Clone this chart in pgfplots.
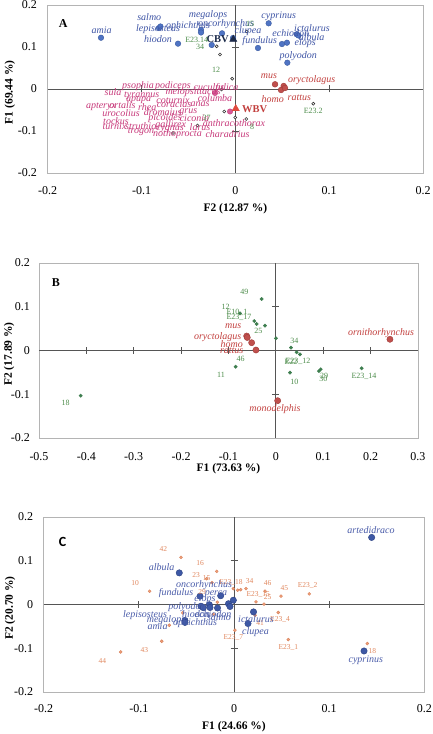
\documentclass[border=0pt]{standalone}
\usepackage{fontspec}
\setmainfont{Liberation Serif}
\newfontfamily\carlito{Carlito}
\usepackage{pgfplots}
\pgfplotsset{compat=1.18}

\definecolor{framegray}{HTML}{B4B4B4}
\definecolor{axgray}{HTML}{555555}
\definecolor{blueA}{HTML}{4F74C4}
\definecolor{blueAedge}{HTML}{3A5AA0}
\definecolor{bluelab}{HTML}{3F55A5}
\definecolor{redD}{HTML}{C0504D}
\definecolor{redE}{HTML}{A03A38}
\definecolor{redlab}{HTML}{C2403E}
\definecolor{pinklab}{HTML}{C7397A}
\definecolor{pinkD}{HTML}{D65A97}
\definecolor{greenlab}{HTML}{4C8C4A}
\definecolor{greenD}{HTML}{3E7E4F}
\definecolor{blueC}{HTML}{3D58A5}
\definecolor{blueCedge}{HTML}{2C4282}
\definecolor{blueClab}{HTML}{4A5CA9}
\definecolor{orangeD}{HTML}{F0A07A}
\definecolor{orangeE}{HTML}{D8825C}
\definecolor{orangelab}{HTML}{E0875E}
\definecolor{navy}{HTML}{1C2A4A}
\definecolor{wbvred}{HTML}{E04A3F}

\pgfplotsset{
  panel/.style={scale only axis, anchor=south west,
    axis line style={framegray, line width=0.6pt},
    major tick length=0pt, tick style={draw=none},
    ticklabel style={font=\fontsize{12}{12}\selectfont, inner sep=0pt},
    every axis x label/.style={anchor=center, font=\bfseries\fontsize{11.5}{11.5}\selectfont},
    every axis y label/.style={rotate=90, anchor=center, font=\bfseries\fontsize{11.5}{11.5}\selectfont},
    clip=false},
}

\newcommand{\crosshair}[6]{%
  \draw[axgray, line width=0.9pt] (axis cs:#1,0) -- (axis cs:#2,0);
  \draw[axgray, line width=0.9pt] (axis cs:0,#3) -- (axis cs:0,#4);
  \pgfplotsinvokeforeach{#5}{\draw[axgray, line width=0.9pt] ([yshift=-3.5pt]axis cs:##1,0) -- ([yshift=3.5pt]axis cs:##1,0);}
  \pgfplotsinvokeforeach{#6}{\draw[axgray, line width=0.9pt] ([xshift=-3.5pt]axis cs:0,##1) -- ([xshift=3.5pt]axis cs:0,##1);}
}

\tikzset{
  lb/.style={inner sep=0pt, font=\fontsize{10}{10}\selectfont\itshape},
  bl/.style={lb, text=bluelab},
  rl/.style={lb, text=redlab},
  pl/.style={lb, text=pinklab},
  cl/.style={lb, text=blueClab},
  gl/.style={inner sep=0pt, font=\fontsize{8}{8}\selectfont, text=greenlab},
  ol/.style={inner sep=0pt, font=\fontsize{7.5}{7.5}\selectfont, text=orangelab},
}
\newcommand{\lab}[4]{\node[#1] at (#2,#3) {#4};}

\begin{document}
\begin{tikzpicture}
\path[use as bounding box] (0,0) rectangle (432pt,734pt);

% ================= Panel A =================
\begin{axis}[panel, at={(47.7pt,561pt)}, width=375.3pt, height=168pt,
  xmin=-0.2, xmax=0.2, ymin=-0.2, ymax=0.2,
  xtick={-0.2,-0.1,0,0.1,0.2}, xticklabels={-0.2,-0.1,0,0.1,0.2},
  ytick={-0.2,-0.1,0,0.1,0.2}, yticklabels={-0.2,-0.1,0,0.1,0.2},
  xticklabel style={anchor=center, yshift=-18pt},
  yticklabel style={anchor=east, xshift=-10.7pt},
  xlabel={F2 (12.87 \%)}, ylabel={F1 (69.44 \%)},
  xlabel style={at={(axis description cs:0.5,-0.2143)}},
  ylabel style={at={(axis description cs:-0.1005,0.48)}}]
\crosshair{-0.2}{0.2}{-0.2}{0.2}{-0.1,0.1}{-0.1,0.1}
% fish (blue)
\addplot[only marks, mark=*, mark size=2.8pt, mark options={fill=blueA, draw=blueAedge, line width=0.4pt}] coordinates {
(-0.1432,0.1221) (-0.0814,0.1452) (-0.0798,0.1488) (-0.0611,0.1079)
(-0.0366,0.1405) (-0.0366,0.1345) (-0.0252,0.1048) (-0.0142,0.1326)
(-0.0025,0.1214) (0.0241,0.0976) (0.0355,0.1564) (0.0497,0.1071)
(0.0550,0.1102) (0.0654,0.1302) (0.0673,0.1274) (0.0554,0.0626)};
% mammals (red)
\addplot[only marks, mark=*, mark size=2.9pt, mark options={fill=redD, draw=redE, line width=0.4pt}] coordinates {
(0.0423,0.0112) (0.0515,0.0071) (0.0487,-0.0024) (0.0529,0.0024)};
% birds (pink)
\addplot[only marks, mark=*, mark size=2.7pt, mark options={fill=pinkD, draw=pinklab, line width=0.4pt}] coordinates {
(-0.0217,-0.0095) (-0.0057,-0.0536)};
% small samples
\addplot[only marks, mark=*, mark size=1.5pt, mark options={fill=white, draw=black!80, line width=0.6pt}] coordinates {
(-0.0199,0.1017) (-0.0164,0.0821) (-0.0034,0.0245) (-0.0148,-0.0012)
(0.0121,0.1369) (0.0831,-0.0350) (-0.0119,-0.0536) (-0.0001,-0.0679)
(0.0116,-0.0714) (-0.0403,-0.0869) (-0.0665,-0.1048)};
% CBV / WBV
\addplot[only marks, mark=triangle*, mark size=4.2pt, mark options={fill=navy, draw=navy}] coordinates {(-0.0022,0.1183)};
\addplot[only marks, mark=triangle*, mark size=4.2pt, mark options={fill=wbvred, draw=wbvred}] coordinates {(0.0004,-0.0469)};
\end{axis}

% ================= Panel B =================
\begin{axis}[panel, at={(39pt,296pt)}, width=379pt, height=175pt,
  xmin=-0.5, xmax=0.3, ymin=-0.2, ymax=0.2,
  xtick={-0.5,-0.4,-0.3,-0.2,-0.1,0,0.1,0.2,0.3},
  xticklabels={-0.5,-0.4,-0.3,-0.2,-0.1,0,0.1,0.2,0.3},
  ytick={-0.2,-0.1,0,0.1,0.2}, yticklabels={-0.2,-0.1,0,0.1,0.2},
  xticklabel style={anchor=center, yshift=-19pt},
  yticklabel style={anchor=east, xshift=-9pt},
  xlabel={F1 (73.63 \%)}, ylabel={F2 (17.89 \%)},
  xlabel style={at={(axis description cs:0.5,-0.1771)}},
  ylabel style={at={(axis description cs:-0.0792,0.48)}}]
\crosshair{-0.5}{0.3}{-0.2}{0.2}{-0.4,-0.3,-0.2,-0.1,0.1,0.2}{-0.1,0.1}
\addplot[only marks, mark=*, mark size=1.7pt, mark options={fill=greenD, draw=greenD}] coordinates {
(-0.0300,0.1177) (-0.0758,0.0850) (-0.0456,0.0674) (-0.0405,0.0606)
(-0.0230,0.0567) (0.0002,0.0279) (0.0319,0.0064) (0.0439,-0.0041)
(0.0509,-0.0087) (-0.0849,-0.0370) (0.0298,-0.0507) (0.0910,-0.0469)
(0.0946,-0.0430) (0.1811,-0.0407) (-0.4120,-0.1033)};
\addplot[only marks, mark=*, mark size=3.1pt, mark options={fill=redD, draw=redE, line width=0.4pt}] coordinates {
(0.2408,0.0256) (-0.0616,0.0331) (-0.0604,0.0297) (-0.0511,0.0178)
(-0.0420,0.0011) (0.0038,-0.1147)};
\end{axis}

% ================= Panel C =================
\begin{axis}[panel, at={(43.6pt,42pt)}, width=380.8pt, height=175pt,
  xmin=-0.2, xmax=0.2, ymin=-0.2, ymax=0.2,
  xtick={-0.2,-0.1,0,0.1,0.2}, xticklabels={-0.2,-0.1,0,0.1,0.2},
  ytick={-0.2,-0.1,0,0.1,0.2}, yticklabels={-0.2,-0.1,0,0.1,0.2},
  xticklabel style={anchor=center, yshift=-17pt},
  yticklabel style={anchor=east, xshift=-10.3pt},
  xlabel={F1 (24.66 \%)}, ylabel={F2 (20.70 \%)},
  xlabel style={at={(axis description cs:0.5,-0.2)}},
  ylabel style={at={(axis description cs:-0.0882,0.48)}}]
\crosshair{-0.2}{0.2}{-0.2}{0.2}{-0.1,0.1}{-0.1,0.1}
\addplot[only marks, mark=*, mark size=1.5pt, mark options={fill=orangeD, draw=orangeE, line width=0.4pt}] coordinates {
(-0.0557,0.1076) (-0.0182,0.0757) (-0.0231,0.0499) (-0.0287,0.0590)
(-0.0886,0.0304) (-0.0007,0.0362) (0.0039,0.0327) (0.0070,0.0339)
(0.0126,0.0362) (0.0326,0.0304) (0.0494,0.0190) (0.0791,0.0243)
(0.0231,0.0060) (0.0315,0.0007) (-0.0175,0.0053) (-0.0539,-0.0192)
(-0.0217,-0.0222) (0.0221,-0.0245) (0.0465,-0.0183) (0.0010,-0.0588)
(0.0570,-0.0801) (0.1400,-0.0892) (-0.0759,-0.0840) (-0.1190,-0.1085)
(-0.0680,-0.0474)};
\addplot[only marks, mark=*, mark size=3.2pt, mark options={fill=blueC, draw=blueCedge, line width=0.4pt}] coordinates {
(0.1446,0.1533) (-0.0575,0.0723) (-0.0357,0.0190) (-0.0140,0.0201)
(-0.0007,0.0098) (-0.0347,-0.0039) (-0.0322,-0.0073) (-0.0259,-0.0005)
(-0.0252,-0.0069) (-0.0173,-0.0080) (-0.0058,0.0018) (-0.0042,-0.0046)
(0.0205,-0.0169) (0.0147,-0.0435) (-0.0515,-0.0365) (-0.0515,-0.0410)
(0.1366,-0.1062)};
\end{axis}

% ================= Labels (pixel coordinates, y downward) =================
\begin{scope}[x=1pt, y=-1pt, shift={(0pt,734pt)}]
% panel letters
\node[inner sep=0pt, font=\bfseries\fontsize{12}{12}\selectfont] at (63.3,23.3) {A};
\node[inner sep=0pt, font=\bfseries\fontsize{12}{12}\selectfont] at (56,282.3) {B};
\node[inner sep=0pt, font=\carlito\bfseries\fontsize{14}{14}\selectfont] at (62.7,541.7) {C};

% ---- A: pink (birds)
\lab{pl}{138}{86.5}{psophia}
\lab{pl}{173}{86}{podiceps}
\lab{pl}{209}{87}{cuculus}
\lab{pl}{227}{88}{fulica}
\lab{pl}{113}{92}{sula}
\lab{pl}{141.7}{95.3}{tyrannus}
\lab{pl}{193}{92}{melopsittacus}
\lab{pl}{138.5}{100.3}{upupa}
\lab{pl}{173}{100}{coturnix}
\lab{pl}{215}{98}{columba}
\lab{pl}{101}{107}{apteryx}
\lab{pl}{122.5}{105.5}{ortalis}
\lab{pl}{147.3}{107}{rhea}
\lab{pl}{174}{104.7}{coracias}
\lab{pl}{200}{104.7}{anas}
\lab{pl}{121}{113.5}{urocolius}
\lab{pl}{162.7}{112}{dromaius}
\lab{pl}{188.3}{112}{grus}
\lab{pl}{116}{121}{tockus}
\lab{pl}{165}{117.7}{picoides}
\lab{pl}{194.5}{118.3}{ciconia}
\lab{pl}{114.5}{126.5}{turnix}
\lab{pl}{140.7}{126}{struthio}
\lab{pl}{170.7}{125.3}{gallirex}
\lab{pl}{200}{127.5}{larus}
\lab{pl}{234}{123.5}{anthracothorax}
\lab{pl}{141}{131.5}{trogon}
\lab{pl}{170}{129.5}{cygnus}
\lab{pl}{177.5}{134}{nothoprocta}
\lab{pl}{227.5}{134}{charadrius}
% ---- A: blue (fish)
\lab{bl}{101.7}{30}{amia}
\lab{bl}{149.3}{16.7}{salmo}
\lab{bl}{158}{29.5}{lepisosteus}
\lab{bl}{158}{39.5}{hiodon}
\lab{bl}{188}{26}{ophichthus}
\lab{bl}{208}{14.7}{megalops}
\lab{bl}{226}{24.5}{oncorhynchus}
\lab{bl}{248}{31.3}{clupea}
\lab{bl}{278.7}{16}{cyprinus}
\lab{bl}{290.7}{33.3}{echiodon}
\lab{bl}{312}{27.7}{ictalurus}
\lab{bl}{311.7}{37.3}{albula}
\lab{bl}{305.3}{43.3}{elops}
\lab{bl}{259.7}{41}{fundulus}
\lab{bl}{298.3}{56}{polyodon}
% ---- A: red (mammals)
\lab{rl}{269}{76.7}{mus}
\lab{rl}{311.7}{80}{oryctolagus}
\lab{rl}{272.7}{99.3}{homo}
\lab{rl}{299.3}{97.3}{rattus}
% ---- A: CBV / WBV
\node[inner sep=0pt, anchor=east, font=\bfseries\fontsize{10.5}{10.5}\selectfont, text=navy] at (229,39.3) {CBV};
\node[inner sep=0pt, anchor=west, font=\bfseries\fontsize{10.5}{10.5}\selectfont, text=redlab] at (242,108.7) {WBV};
% ---- A: green
\lab{gl}{250}{23.7}{15}
\lab{gl}{196.7}{40.3}{E23.14}
\lab{gl}{200}{47}{34}
\lab{gl}{216}{70.3}{12}
\lab{gl}{313.3}{110.7}{E23.2}
\lab{gl}{206.7}{118.3}{37}
\lab{gl}{252}{127}{8}

% ---- B: green
\lab{gl}{244.3}{292.3}{49}
\lab{gl}{225.7}{307.3}{12}
\lab{gl}{237}{312.7}{E10\_1}
\lab{gl}{239}{317.3}{E23\_17}
\lab{gl}{258.3}{331}{25}
\lab{gl}{294.3}{340.7}{34}
\lab{gl}{291}{361.7}{E22}
\lab{gl}{298}{361.7}{E23\_12}
\lab{gl}{240.7}{359}{46}
\lab{gl}{221}{375}{11}
\lab{gl}{294.3}{381.7}{10}
\lab{gl}{324}{375.5}{29}
\lab{gl}{323.3}{378.5}{30}
\lab{gl}{364}{376.7}{E23\_14}
\lab{gl}{65.7}{403.3}{18}
% ---- B: red
\lab{rl}{381}{332.7}{ornithorhynchus}
\lab{rl}{233.3}{326.7}{mus}
\lab{rl}{217.7}{337.3}{oryctolagus}
\lab{rl}{231.7}{344.3}{homo}
\lab{rl}{231.7}{350.7}{rattus}
\lab{rl}{275}{409}{monodelphis}

% ---- C: orange
\lab{ol}{163.3}{549.3}{42}
\lab{ol}{200}{563.3}{16}
\lab{ol}{196}{575}{23}
\lab{ol}{206.7}{578.3}{15}
\lab{ol}{135}{583.3}{10}
\lab{ol}{231}{582}{E23\_18}
\lab{ol}{249.5}{581}{34}
\lab{ol}{267.7}{583.3}{46}
\lab{ol}{284.3}{587.7}{45}
\lab{ol}{307.7}{586}{E23\_2}
\lab{ol}{258.3}{595}{E23\_15}
\lab{ol}{267.7}{596.7}{25}
\lab{ol}{202}{592}{29}
\lab{ol}{260}{622.7}{41}
\lab{ol}{280}{620}{E23\_4}
\lab{ol}{233.3}{637.3}{E23\_7}
\lab{ol}{288.3}{647.3}{E23\_1}
\lab{ol}{372.3}{650.7}{18}
\lab{ol}{144.3}{650}{43}
\lab{ol}{102.3}{660.7}{44}
% ---- C: blue
\lab{cl}{371}{530}{artedidraco}
\lab{cl}{161.7}{566.7}{albula}
\lab{cl}{204}{585.5}{oncorhynchus}
\lab{cl}{176}{592.7}{fundulus}
\lab{cl}{216}{594.3}{perca}
\lab{cl}{205}{599}{elops}
\lab{cl}{187}{606.7}{polyodon}
\lab{cl}{145}{615.5}{lepisosteus}
\lab{cl}{196}{614.5}{hiodon}
\lab{cl}{213}{614.5}{echiodon}
\lab{cl}{219}{617}{salmo}
\lab{cl}{166}{620}{megalops}
\lab{cl}{157.5}{626}{amia}
\lab{cl}{195}{623.3}{ophichthus}
\lab{cl}{256}{619.5}{ictalurus}
\lab{cl}{255.5}{632.3}{clupea}
\lab{cl}{365.8}{660}{cyprinus}
\end{scope}
\end{tikzpicture}
\end{document}
